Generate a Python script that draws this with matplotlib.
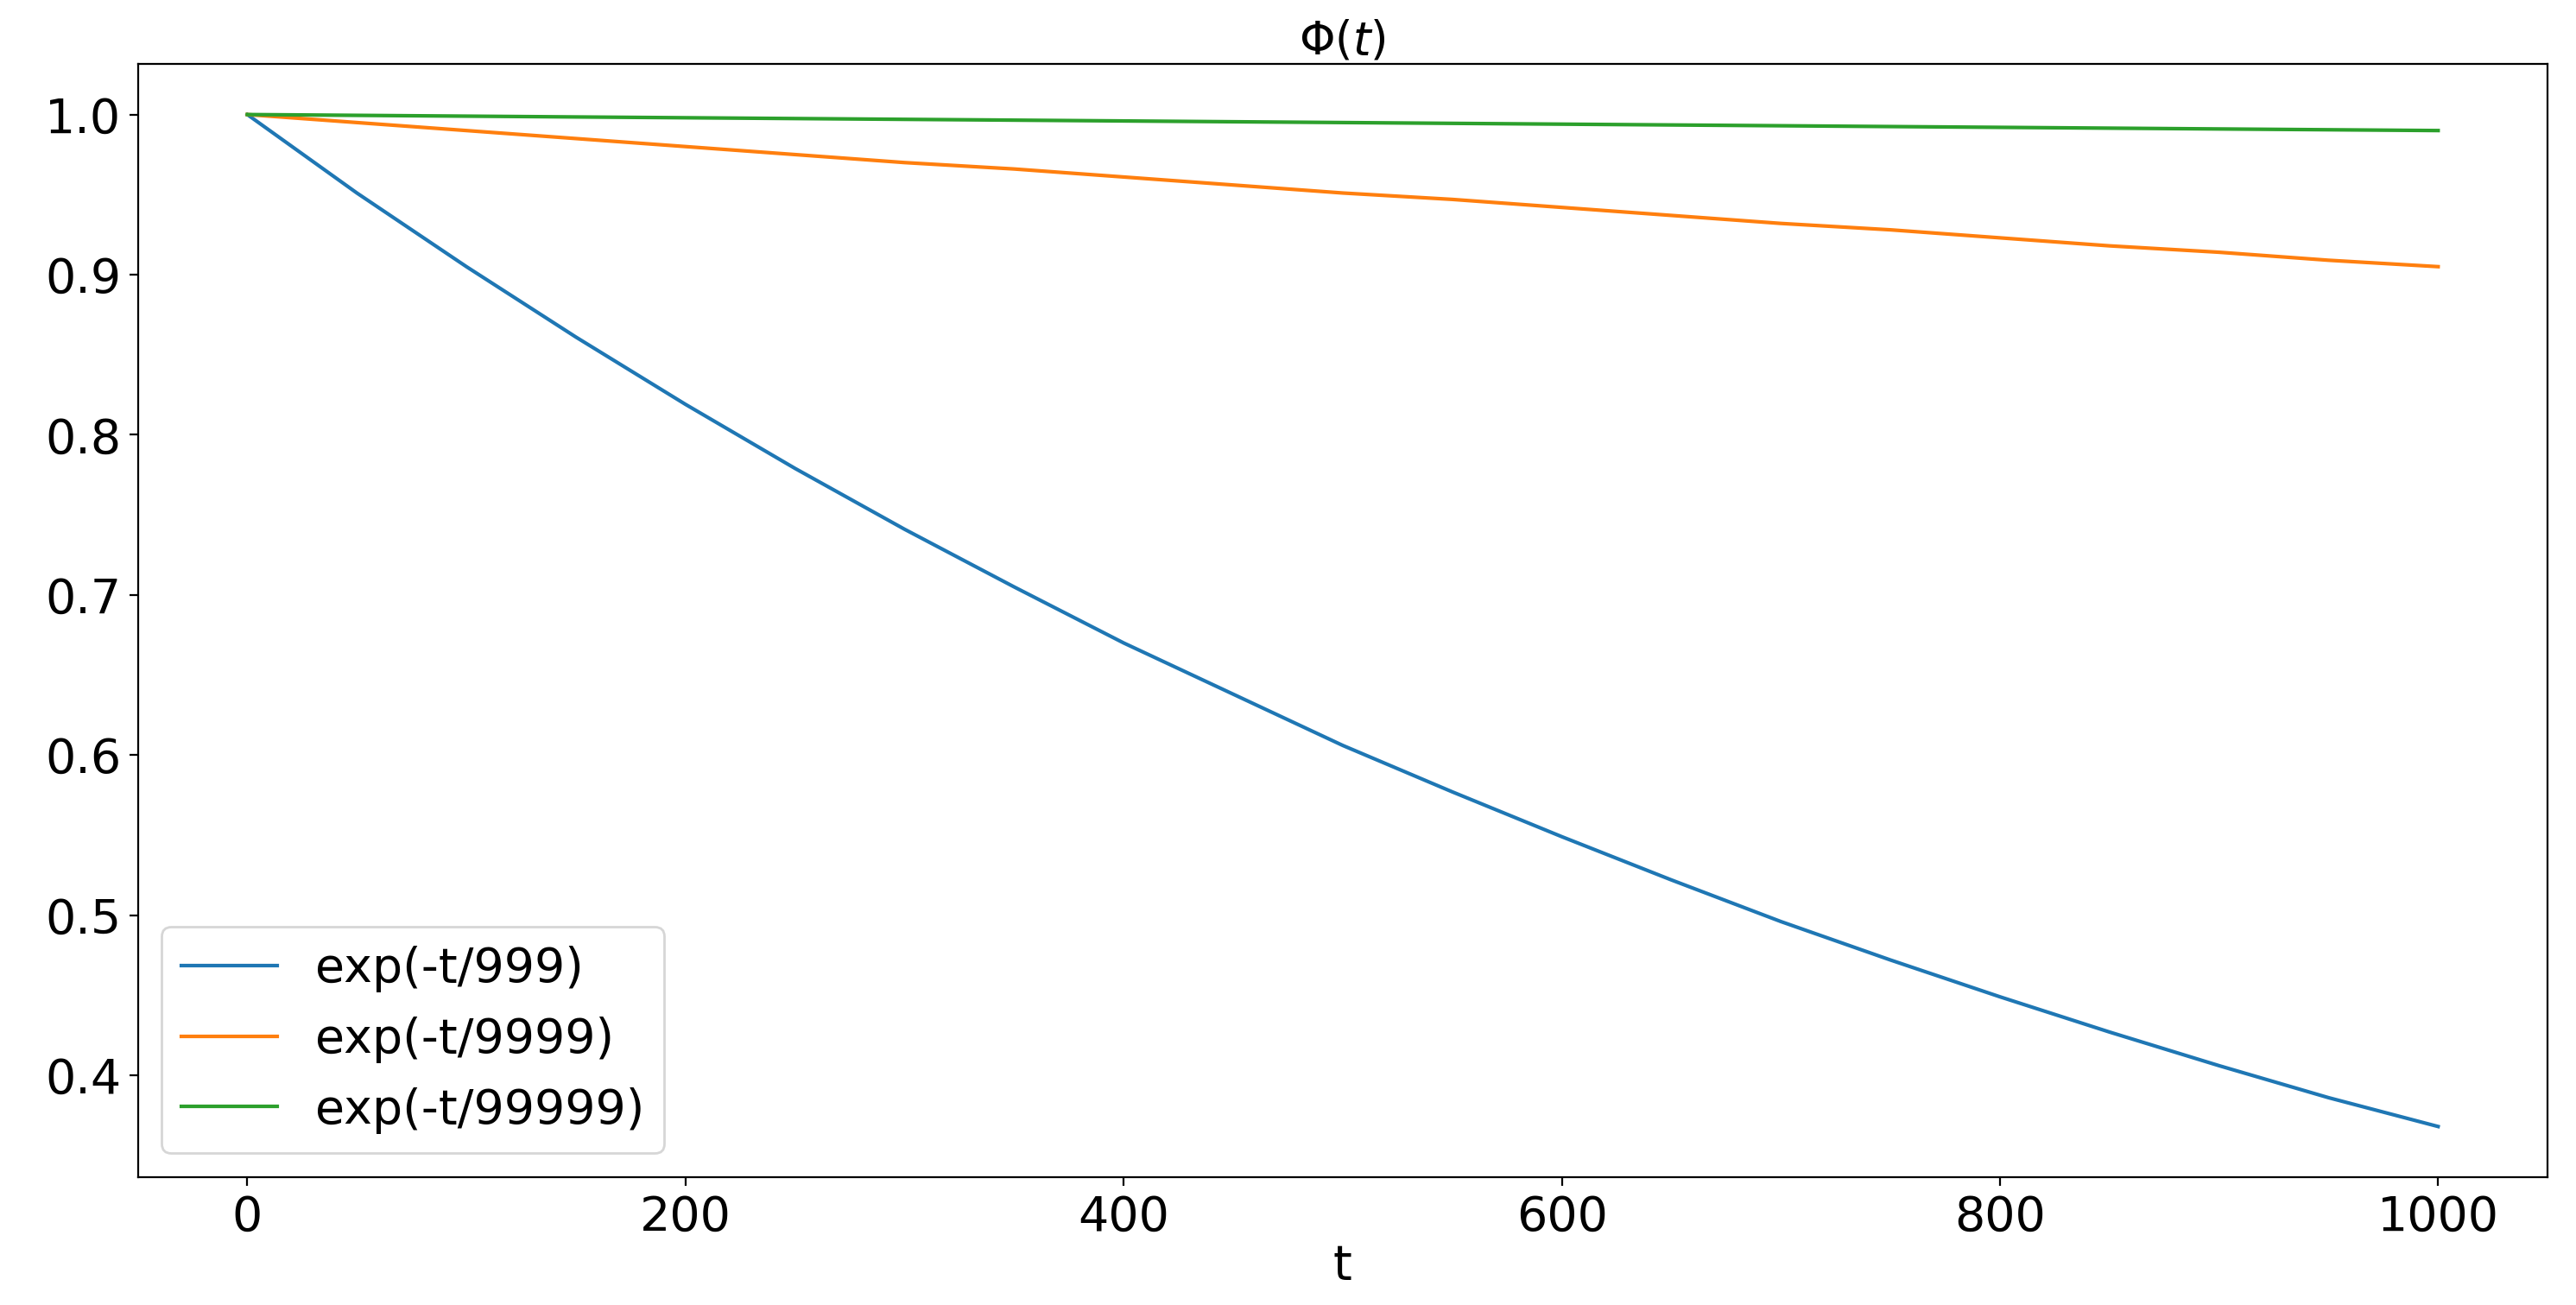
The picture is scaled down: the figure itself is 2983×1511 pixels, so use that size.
import matplotlib
matplotlib.use("Agg")
import matplotlib.pyplot as plt

t = [0, 50, 100, 150, 200, 250, 300, 350, 400, 450, 500, 550, 600, 650, 700, 750, 800, 850, 900, 950, 1000]
blue = [1.0, 0.951, 0.905, 0.861, 0.819, 0.779, 0.741, 0.705, 0.670, 0.638, 0.606, 0.577, 0.549, 0.522, 0.496, 0.472, 0.449, 0.427, 0.406, 0.386, 0.368]
orange = [1.0, 0.995, 0.990, 0.985, 0.980, 0.975, 0.970, 0.966, 0.961, 0.956, 0.951, 0.947, 0.942, 0.937, 0.932, 0.928, 0.923, 0.918, 0.914, 0.909, 0.905]
green = [1.0, 0.9995, 0.999, 0.9985, 0.998, 0.9975, 0.997, 0.9965, 0.996, 0.9955, 0.995, 0.9945, 0.994, 0.9935, 0.993, 0.9925, 0.992, 0.9915, 0.991, 0.9905, 0.990]
labels = ["exp(-t/999)", "exp(-t/9999)", "exp(-t/99999)"]

fig = plt.figure(figsize=(14.915, 7.555), dpi=200)
ax = fig.add_axes([0.0535, 0.098, 0.9355, 0.853])
for y, lab in zip([blue, orange, green], labels):
    ax.plot(t, y, label=lab, lw=1.5)
ax.set_title(r"$\Phi(t)$", fontsize=19, pad=4)
ax.set_xlabel("t", fontsize=20, labelpad=1)
ax.tick_params(labelsize=20)
ax.legend(fontsize=20, loc="lower left")
fig.savefig("out.png", dpi=200)
